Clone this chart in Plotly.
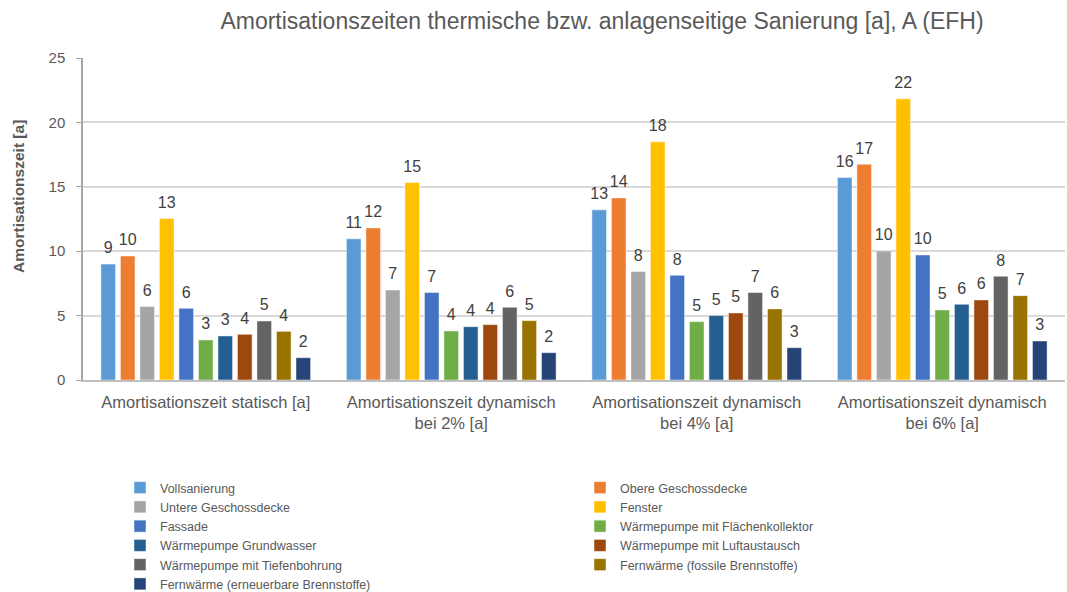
import plotly.graph_objects as go

categories = [
    "Amortisationszeit statisch [a]",
    "Amortisationszeit dynamisch<br>bei 2% [a]",
    "Amortisationszeit dynamisch<br>bei 4% [a]",
    "Amortisationszeit dynamisch<br>bei 6% [a]",
]

series_names = [
    "Vollsanierung", "Obere Geschossdecke", "Untere Geschossdecke", "Fenster",
    "Fassade", "Wärmepumpe mit Flächenkollektor", "Wärmepumpe Grundwasser",
    "Wärmepumpe mit Luftaustausch", "Wärmepumpe mit Tiefenbohrung",
    "Fernwärme (fossile Brennstoffe)", "Fernwärme (erneuerbare Brennstoffe)",
]

vollsanierung = [9.0, 10.96, 13.21, 15.72]
obere = [9.63, 11.81, 14.14, 16.76]
untere = [5.70, 6.99, 8.42, 10.02]
fenster = [12.53, 15.33, 18.49, 21.83]
fassade = [5.57, 6.79, 8.13, 9.71]
wp_flaeche = [3.11, 3.81, 4.53, 5.44]
wp_grund = [3.42, 4.14, 5.00, 5.88]
wp_luft = [3.55, 4.30, 5.21, 6.22]
wp_tiefe = [4.58, 5.65, 6.79, 8.06]
fern_fossil = [3.78, 4.61, 5.52, 6.55]
fern_erneuerbar = [1.73, 2.12, 2.51, 3.03]

values = [vollsanierung, obere, untere, fenster, fassade, wp_flaeche,
          wp_grund, wp_luft, wp_tiefe, fern_fossil, fern_erneuerbar]

colors = ["#5B9BD5", "#ED7D31", "#A5A5A5", "#FFC000", "#4472C4", "#70AD47",
          "#255E91", "#9E480E", "#636363", "#997300", "#264478"]

# left legend column gets even indices, right column odd indices
legend_of = ["legend" if i % 2 == 0 else "legend2" for i in range(len(series_names))]

FONT = "Liberation Sans, Arial, sans-serif"
GRAY = "#595959"

fig = go.Figure()
for i, (name, vals, col) in enumerate(zip(series_names, values, colors)):
    fig.add_trace(go.Bar(
        name=name, x=categories, y=vals, offsetgroup=str(i),
        marker=dict(color=col, line=dict(color="rgba(255,255,255,0.6)", width=0.8)),
        legend=legend_of[i], hoverinfo="x+y+name",
    ))
for i, vals in enumerate(values):
    fig.add_trace(go.Scatter(
        x=categories, y=vals, offsetgroup=str(i), mode="markers+text",
        marker=dict(size=9, opacity=0), text=[f"{v:.0f}" for v in vals],
        textposition="top center", textfont=dict(family=FONT, size=16, color="#404040"),
        showlegend=False, hoverinfo="skip", cliponaxis=False,
    ))

fig.update_layout(
    width=1067, height=592,
    paper_bgcolor="white", plot_bgcolor="white",
    margin=dict(l=83, r=2, t=58, b=212, autoexpand=False),
    barmode="group", bargap=0.126, bargroupgap=0.25,
    scattermode="group", scattergap=0.126,
    title=dict(text="Amortisationszeiten thermische bzw. anlagenseitige Sanierung [a], A (EFH)",
               x=602 / 1067, xanchor="center", y=1 - 21 / 592, yanchor="middle",
               font=dict(family=FONT, size=23, color=GRAY)),
    font=dict(family=FONT, color=GRAY),
    showlegend=True,
    legend=dict(xref="container", yref="container", x=120 / 1067, xanchor="left",
                y=1 - 473 / 592, yanchor="top", orientation="v", tracegroupgap=0,
                font=dict(family=FONT, size=12.5, color=GRAY), itemwidth=30,
                bgcolor="rgba(0,0,0,0)"),
    legend2=dict(xref="container", yref="container", x=580 / 1067, xanchor="left",
                 y=1 - 473 / 592, yanchor="top", orientation="v", tracegroupgap=0,
                 font=dict(family=FONT, size=12.5, color=GRAY), itemwidth=30,
                 bgcolor="rgba(0,0,0,0)"),
    annotations=[dict(text="<b>Amortisationszeit [a]</b>", textangle=-90,
                      xref="paper", yref="paper", x=(18 - 83) / 982, y=(380 - 197) / 322,
                      xanchor="center", yanchor="middle", showarrow=False,
                      font=dict(family=FONT, size=15.5, color=GRAY))],
)

fig.update_yaxes(
    range=[0, 25], dtick=5, showgrid=True, gridcolor="#D9D9D9", gridwidth=1.5,
    showline=True, linecolor="#A6A6A6", linewidth=1.5, ticks="outside", ticklen=5,
    tickcolor="#A6A6A6", tickfont=dict(family=FONT, size=15, color=GRAY),
    ticklabelstandoff=8, zeroline=False,
)
fig.update_xaxes(
    showline=True, linecolor="#BFBFBF", linewidth=1.5, ticks="",
    tickfont=dict(family=FONT, size=16.5, color=GRAY), ticklabelstandoff=6,
)

fig.write_html("out.html", config={"displayModeBar": False},
               post_script="document.body.style.margin='0';")
